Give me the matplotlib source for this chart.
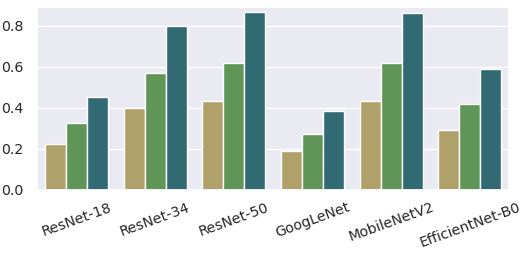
import matplotlib
matplotlib.use("Agg")
import matplotlib.pyplot as plt
import numpy as np
import seaborn as sns

sns.set_theme(style="darkgrid")
plt.rcParams["font.family"] = ["DejaVu Sans"]

categories = ["ResNet-18", "ResNet-34", "ResNet-50", "GoogLeNet", "MobileNetV2", "EfficientNet-B0"]
series_a = [0.226, 0.400, 0.433, 0.192, 0.433, 0.293]
series_b = [0.325, 0.569, 0.618, 0.275, 0.620, 0.420]
series_c = [0.452, 0.797, 0.867, 0.387, 0.862, 0.589]
colors = ["#b0a06a", "#5f9557", "#326a73"]

fig = plt.figure(figsize=(5.27, 2.54), dpi=100)
ax = fig.add_axes([0.0702, 0.252, 0.896, 0.722])

x = np.arange(len(categories))
w = 0.8 / 3
for i, (vals, c) in enumerate(zip([series_a, series_b, series_c], colors)):
    ax.bar(x + (i - 1) * w, vals, width=w, color=c, edgecolor="white", linewidth=1)

ax.set_xlim(-0.5, len(categories) - 0.5)
ax.set_ylim(0, 0.893)
ax.set_yticks([0.0, 0.2, 0.4, 0.6, 0.8])
ax.set_xticks(x)
ax.set_xticklabels(categories, rotation=20)
ax.tick_params(axis="both", labelsize=10.2, colors=".15")
ax.tick_params(axis="x", pad=1.5)
ax.grid(axis="x", visible=False)

fig.savefig("out.png", dpi=100)
